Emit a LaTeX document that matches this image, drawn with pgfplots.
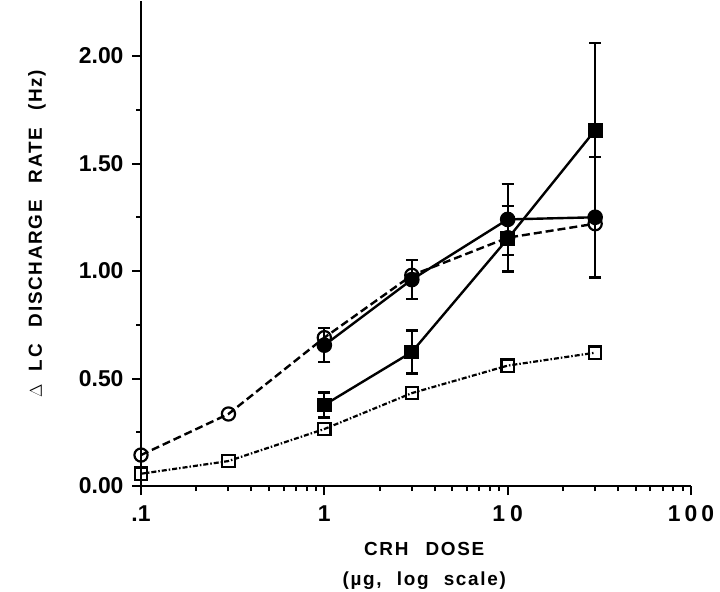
\documentclass[border=0pt]{standalone}
\usepackage{pgfplots}
\pgfplotsset{compat=1.18}
\usepackage{fontspec}
\setmainfont{Liberation Sans}
\begin{document}
\begin{tikzpicture}
\begin{axis}[
  scale only axis,
  width=550bp, height=485bp,
  xmode=log, xmin=0.1, xmax=100,
  ymin=0, ymax=2.256,
  axis x line*=bottom, axis y line*=left,
  axis line style={line width=2.2bp},
  every tick/.style={black, line width=2bp},
  xtick={0.1,1,10,100},
  xticklabels={.1,1,1\kern5bp0,1\kern4bp0\kern4bp0},
  minor xtick={0.2,0.3,0.4,0.5,0.6,0.7,0.8,0.9,2,3,4,5,6,7,8,9,20,30,40,50,60,70,80,90},
  ytick={0,0.5,1,1.5,2},
  yticklabels={0.00,0.50,1.00,1.50,2.00},
  minor ytick={0.25,0.75,1.25,1.75},
  tick align=outside,
  major tick length=9bp, minor tick length=5bp,
  tick label style={font=\bfseries\fontsize{23}{26}\selectfont},
  /pgf/number format/assume math mode=true,
  xticklabel style={yshift=-7bp},
  yticklabel style={xshift=-5bp},
  label style={font=\bfseries\fontsize{19}{30}\selectfont\addfontfeatures{LetterSpace=9}},
  xlabel={CRH\hspace{0.9em}DOSE\\(\textmu g,\hspace{0.8em}log\hspace{0.8em}scale)},
  xlabel style={align=center, at={(axis description cs:0.515,-0.116)}, anchor=north, inner sep=0pt},
  ylabel={{\mdseries$\Delta$}\hspace{0.7em}LC\hspace{0.9em}DISCHARGE\hspace{0.9em}RATE\hspace{0.9em}(Hz)},
  ylabel style={at={(axis description cs:-0.189,0.52)}, anchor=center},
  clip=false,
  error bars/error bar style={line width=2.2bp},
  error bars/error mark options={rotate=90, mark size=6bp, line width=2.2bp},
]
% filled squares
\addplot[black, line width=2.4bp, mark=square*, mark size=6.2bp,
  error bars/.cd, y dir=both, y explicit]
  coordinates {(1,0.377) +- (0,0.058) (3,0.623) +- (0,0.10) (10,1.15) +- (0,0.152) (30,1.655) +- (0,0.405)};
% filled circles
\addplot[black, line width=2.4bp, mark=*, mark size=6.6bp,
  error bars/.cd, y dir=both, y explicit]
  coordinates {(1,0.655) +- (0,0.08) (3,0.96) +- (0,0.09) (10,1.24) +- (0,0.165) (30,1.25) +- (0,0.28)};
% open circles
\addplot[black, line width=2.4bp, dash pattern=on 8bp off 4bp, mark=o, mark size=6.6bp,
  mark options={solid, fill=white, line width=2.2bp}]
  coordinates {(0.1,0.144) (0.3,0.335) (1,0.69) (3,0.98) (10,1.155) (30,1.22)};
% open squares
\addplot[black, line width=2.2bp, dash pattern=on 5bp off 2bp on 1.5bp off 2bp, mark=square, mark size=6.2bp,
  mark options={solid, fill=white, line width=2.2bp}]
  coordinates {(0.1,0.057) (0.3,0.116) (1,0.265) (3,0.432) (10,0.56) (30,0.62)};
\end{axis}
\pgfresetboundingbox
\path (current axis.south west) ++(-141bp,-106bp) rectangle ++(720bp,592bp);
\end{tikzpicture}
\end{document}
